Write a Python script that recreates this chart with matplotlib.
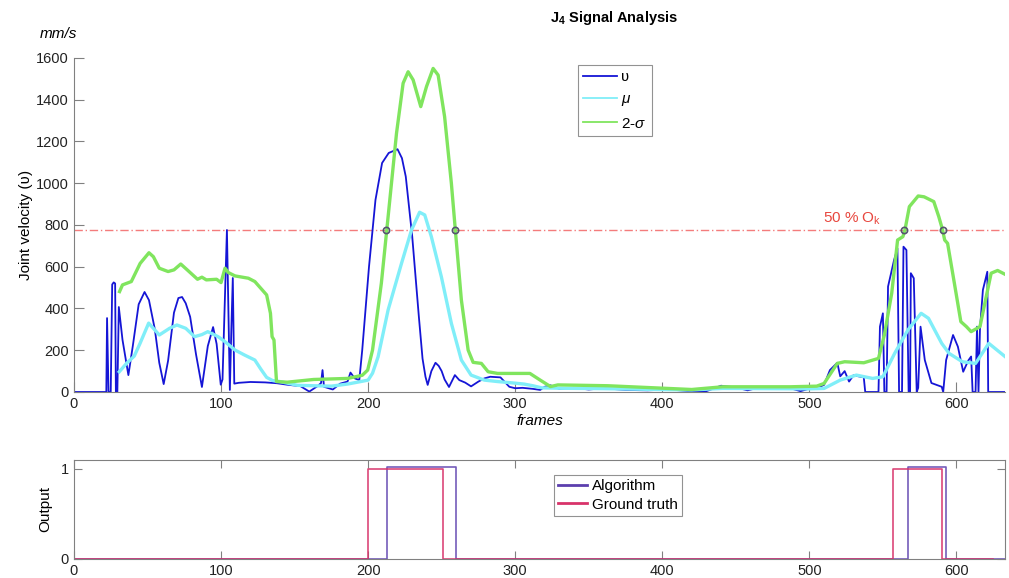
import numpy as np
import matplotlib
matplotlib.use("Agg")
import matplotlib.pyplot as plt

plt.rcParams['font.family'] = ['Liberation Sans', 'DejaVu Sans']
plt.rcParams['mathtext.fontset'] = 'custom'
plt.rcParams['mathtext.rm'] = 'Liberation Sans'
plt.rcParams['mathtext.it'] = 'Liberation Sans:italic'
plt.rcParams['mathtext.bf'] = 'Liberation Sans:bold'

# joint velocity (blue)
v_frames = [0, 22, 22.5, 23.5, 25, 26, 27, 28, 28.5, 29.5, 30.5, 33, 37, 40, 44, 48, 51, 55, 58, 61,
            64, 68, 71, 73.5, 76, 79, 83, 87, 91, 94.6, 97, 99.8, 101, 104, 105, 106, 107, 108, 109, 112,
            120, 130, 138, 145, 154, 160, 166, 168, 169, 170, 176, 181, 186, 188, 191, 194, 196, 200.6, 205, 209.5,
            214, 220, 223, 225.6, 230, 234.5, 237, 239, 240.5, 243, 245.8, 248, 250, 252, 255, 259, 262, 266, 270, 275,
            279, 283, 290, 296, 300, 305, 312, 317, 320, 324, 330, 340, 350, 360, 375, 390, 405, 417, 430, 440,
            450, 458, 465, 475, 487, 494, 502, 507, 510, 514, 519, 521, 524, 527, 530, 537, 538, 547, 548, 550,
            551, 552.5, 553.5, 557.6, 559.9, 561, 563, 564, 566, 567.5, 568.5, 569, 571, 573, 574, 575.6, 578.5, 583, 590, 591,
            593, 597.7, 601, 604.6, 608, 610, 611, 613, 614, 615, 616, 618, 621, 621.6, 633]
v_vals = [0, 0, 354, 0, 0, 515, 525, 520, 0, 0, 407, 250, 81, 220, 420, 479, 440, 300, 140, 38,
          150, 380, 450, 455, 425, 360, 180, 24, 220, 311, 230, 35, 60, 776, 400, 10, 300, 546, 40, 44,
          48, 46, 42, 35, 28, 2, 30, 43, 105, 25, 12, 40, 50, 93, 65, 57, 201, 600, 920, 1097,
          1145, 1163, 1120, 1032, 744, 361, 160, 73, 34, 100, 140, 125, 100, 60, 24, 81, 57, 45, 27, 50,
          65, 73, 70, 25, 18, 20, 15, 10, 25, 32, 15, 20, 12, 18, 10, 8, 12, 5, 4, 30,
          22, 8, 20, 15, 18, 4, 20, 25, 34, 105, 140, 75, 100, 50, 80, 70, 0, 0, 313, 377,
          0, 0, 505, 632, 688, 0, 0, 696, 680, 0, 0, 569, 545, 0, 20, 313, 153, 43, 25, 0,
          153, 273, 217, 97, 150, 170, 0, 0, 313, 0, 300, 489, 576, 0, 0]

# mean (cyan)
mu_frames = [30.8, 36, 41, 45, 50.8, 54, 58, 65, 70, 76, 82, 87, 91, 98, 102.7, 109.5, 116, 123, 127, 131,
             135, 140, 152, 163, 175, 186, 195, 200, 203, 206.8, 213.6, 222.7, 229.5, 235, 238.5, 243, 249.8, 256.6, 263.4, 270,
             279, 288, 299, 306, 312, 318, 330, 360, 396, 420, 441, 470, 500, 510, 521, 532, 543, 550, 558, 567,
             576, 581, 590, 595, 604, 613, 622, 633]
mu_vals = [97, 139, 172, 234, 330, 305, 273, 305, 321, 305, 265, 275, 289, 265, 241, 201, 177, 153, 110, 70,
           55, 50, 32, 30, 28, 38, 50, 57, 90, 169, 393, 616, 776, 861, 848, 744, 552, 329, 153, 81,
           57, 50, 43, 38, 30, 20, 18, 16, 12, 10, 17, 16, 15, 17, 57, 81, 65, 73, 185, 297,
           377, 353, 233, 185, 145, 137, 233, 170]

# 2-sigma (green)
s_frames = [31, 33, 39, 45, 51, 54, 58, 64, 68, 72.6, 77, 84, 87, 90, 97, 100, 102.7, 105, 109.5, 118.6,
            123, 128, 131, 133.6, 134.7, 136, 137.7, 145, 163, 186, 196, 199.7, 203, 209, 213.6, 219.3, 223.8, 227.2, 230.6, 235.8,
            239.7, 244.2, 247.6, 252, 256.6, 259.3, 263.4, 268, 271.4, 277, 281.6, 288, 310, 317, 324, 329, 363, 420, 441, 487,
            505, 510, 519, 524, 537, 547, 551, 556, 560, 563.6, 565, 568, 574, 578, 584.6, 588, 590.6, 592, 594, 598.6,
            603, 606.8, 610, 616, 623.6, 628, 633]
s_vals = [481, 513, 529, 616, 667, 648, 593, 577, 585, 613, 585, 540, 550, 537, 540, 524, 593, 572, 556, 545,
          529, 489, 465, 377, 265, 249, 50, 47, 60, 65, 80, 105, 201, 521, 840, 1239, 1479, 1534, 1495, 1367,
          1463, 1550, 1518, 1319, 1000, 776, 441, 201, 142, 137, 97, 89, 89, 57, 26, 34, 30, 12, 25, 25,
          28, 41, 137, 145, 140, 161, 273, 473, 728, 744, 776, 888, 939, 935, 912, 840, 776, 728, 712, 521,
          337, 313, 289, 313, 569, 582, 564]

threshold = 775
cross_frames = [212.2, 259.3, 564.5, 590.7]

# binary outputs: (start, end) frames of the "1" intervals
alg_on = [(212.5, 260), (567, 593)]
gt_on = [(199.6, 251), (557, 590)]
alg_end, gt_end = 633, 625
alg_level = 1.02


def step_line(intervals, end, level):
    xs, ys = [0], [0]
    for a, b in intervals:
        xs += [a, a, b, b]
        ys += [0, level, level, 0]
    xs.append(end)
    ys.append(0)
    return xs, ys


fig = plt.figure(figsize=(10.09, 5.78), dpi=100)
ax1 = fig.add_axes([0.0733, 0.3218, 0.9227, 0.5779])
ax2 = fig.add_axes([0.0733, 0.0329, 0.9227, 0.1713])

gray = '#808080'

ax1.axhline(threshold, color='#F47C7C', lw=1.0, ls='-.', dashes=(6, 2, 1, 2))
ax1.plot(v_frames, v_vals, color='#1515D6', lw=1.3, label='ʋ')
ax1.plot(mu_frames, mu_vals, color='#80EEF8', lw=2.4, label=r'$\mu$')
ax1.plot(s_frames, s_vals, color='#80E55E', lw=2.4, label=r'2-$\sigma$')
ax1.plot(cross_frames, [threshold] * len(cross_frames), 'o', ms=4.5, mfc='none',
         mec='#555570', mew=1.2)
ax1.text(549, 790, r'50 % O$_\mathregular{k}$', color='#E8473E', fontsize=11, ha='right', va='bottom')

ax1.set_xlim(0, 633)
ax1.set_ylim(0, 1600)
ax1.set_xticks(np.arange(0, 700, 100))
ax1.set_yticks(np.arange(0, 1601, 200))
ax1.set_xlabel('frames', fontstyle='italic', fontsize=11, labelpad=2)
ax1.set_ylabel('Joint velocity (ʋ)', fontsize=11, labelpad=2)
for s in ['top', 'right']:
    ax1.spines[s].set_visible(False)
for s in ['left', 'bottom']:
    ax1.spines[s].set_color(gray)
    ax1.spines[s].set_linewidth(0.8)
ax1.tick_params(direction='in', length=7, width=0.8, color=gray, labelsize=10.5, labelcolor='#222222')
leg1 = ax1.legend(loc='upper left', bbox_to_anchor=(0.541, 0.98), borderaxespad=0, fontsize=11,
                  frameon=True, fancybox=False, handlelength=2.2, borderpad=0.35, labelspacing=0.55,
                  handletextpad=0.3)
leg1.get_frame().set_edgecolor('#777777')
leg1.get_frame().set_linewidth(0.8)
for line in leg1.get_lines():
    line.set_linewidth(1.3)

fig.text(0.0395, 0.935, 'mm/s', fontstyle='italic', fontsize=11)
fig.text(0.609, 0.962, r'$\mathbf{J_4}$ Signal Analysis', fontweight='bold', fontsize=10.5, ha='center')

ax_x, ax_y = step_line(alg_on, alg_end, alg_level)
gt_x, gt_y = step_line(gt_on, gt_end, 1)
ax2.plot(ax_x, ax_y, color='#5C3FAE', lw=1.2, alpha=0.85, label='Algorithm')
ax2.plot(gt_x, gt_y, color='#D8336A', lw=1.2, alpha=0.9, label='Ground truth')
ax2.set_xlim(0, 633)
ax2.set_ylim(0, 1.1)
ax2.set_xticks(np.arange(0, 700, 100))
ax2.set_yticks([0, 1])
ax2.set_ylabel('Output', fontsize=11, labelpad=6)
for s in ax2.spines.values():
    s.set_color(gray)
    s.set_linewidth(0.8)
ax2.tick_params(direction='in', length=6, width=0.8, color=gray, labelsize=10.5, labelcolor='#222222',
                top=True, right=True)
leg2 = ax2.legend(loc='upper left', bbox_to_anchor=(0.507, 0.93), fontsize=11, frameon=True,
                  fancybox=False, handlelength=1.9, borderpad=0.3, labelspacing=0.3, handletextpad=0.3)
leg2.get_frame().set_edgecolor('#777777')
leg2.get_frame().set_linewidth(0.8)
for line in leg2.get_lines():
    line.set_linewidth(2.0)
    line.set_alpha(1)

fig.savefig('out.png', dpi=100)
